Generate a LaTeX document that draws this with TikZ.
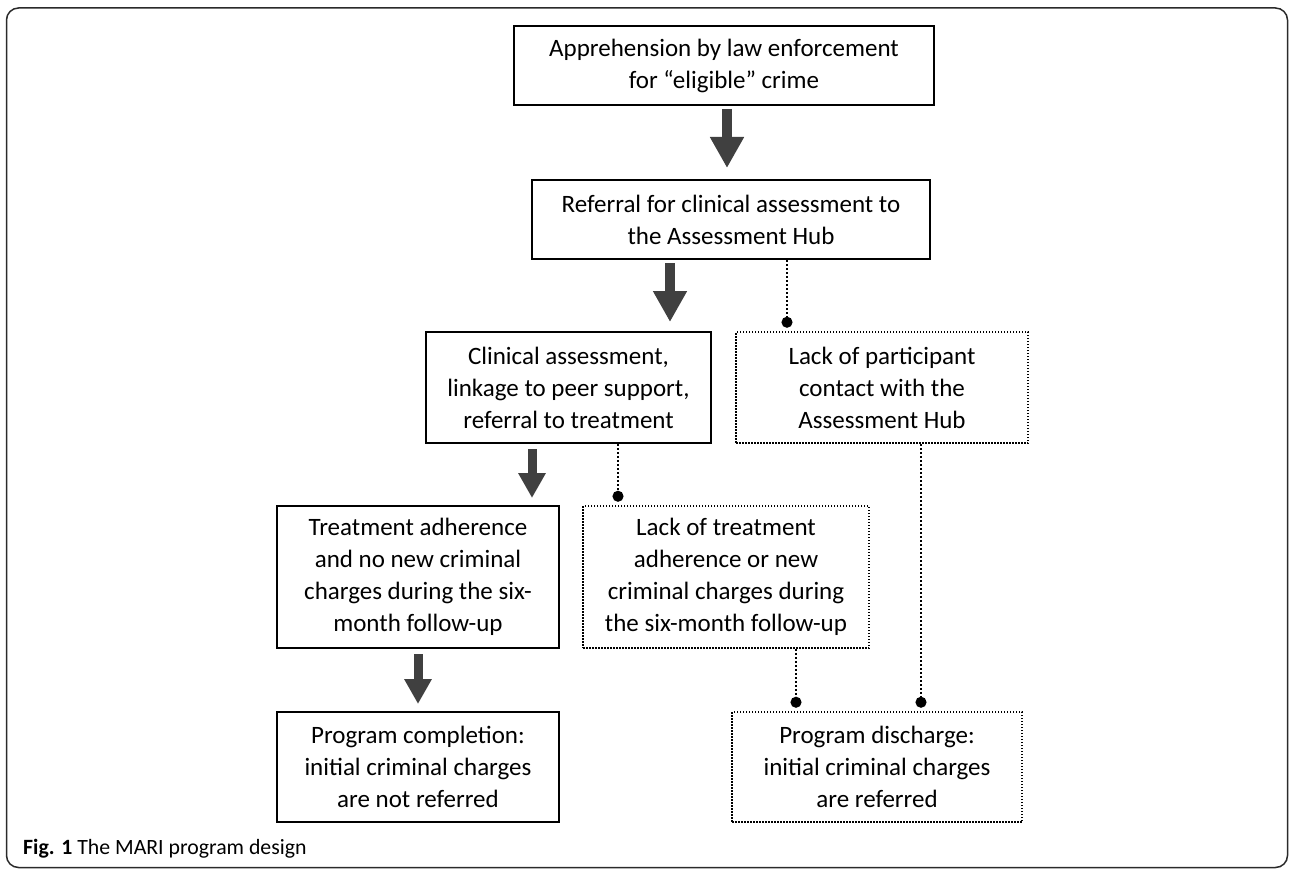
\documentclass[tikz,border=0pt]{standalone}
\usepackage{fontspec}
\setmainfont{Carlito}
\usetikzlibrary{arrows.meta}
\definecolor{arrowgray}{HTML}{404040}
\definecolor{framegray}{HTML}{2A2A2A}
\begin{document}
\begin{tikzpicture}[x=1pt,y=-1pt,
  boxtext/.style={align=center, inner sep=0pt, font=\fontsize{25}{32}\selectfont},
  sbox/.style={boxtext, draw, line width=2pt},
  dbox/.style={boxtext, draw, line width=1.5pt, dash pattern=on 1.5pt off 1.5pt},
  blockarrow/.style={arrowgray, line width=10pt, -{Triangle[width=32pt,length=31pt]}},
  smallarrow/.style={arrowgray, line width=9pt, -{Triangle[width=26pt,length=25pt]}},
  dotconn/.style={line width=2pt, dash pattern=on 2pt off 2pt, -{Circle[length=11pt]}, shorten >=3.5pt}]
\useasboundingbox (0,0) rectangle (1290,869);
\draw[framegray, line width=1.5pt, rounded corners=12pt] (6.5,8) rectangle (1287.5,867.5);

\node[sbox, minimum width=420pt, minimum height=79pt] (b1) at (724,65.5)
  {Apprehension by law enforcement\\for “eligible” crime};
\node[sbox, minimum width=398pt, minimum height=79pt] (b2) at (731,219.5)
  {Referral for clinical assessment to\\the Assessment Hub};
\node[sbox, minimum width=285pt, minimum height=111pt] (b3) at (568.5,387.5)
  {Clinical assessment,\\linkage to peer support,\\referral to treatment};
\node[dbox, minimum width=292pt, minimum height=111pt] (b4) at (882,387.5)
  {Lack of participant\\contact with the\\Assessment Hub};
\node[sbox, minimum width=282pt, minimum height=142pt] (b5) at (418,577)
  {Treatment adherence\\and no new criminal\\charges during the six-\\month follow-up};
\node[dbox, minimum width=286pt, minimum height=142pt] (b6) at (726,577)
  {Lack of treatment\\adherence or new\\criminal charges during\\the six-month follow-up};
\node[sbox, minimum width=282pt, minimum height=110pt] (b7) at (418,767)
  {Program completion:\\initial criminal charges\\are not referred};
\node[dbox, minimum width=290pt, minimum height=110pt] (b8) at (877,767)
  {Program discharge:\\initial criminal charges\\are referred};

\coordinate (x1) at (727,0);
\coordinate (x2) at (670,0);
\coordinate (x3) at (532,0);
\coordinate (x4) at (418,0);
\coordinate (y1) at (787,0);
\coordinate (y2) at (618,0);
\coordinate (y3) at (796,0);
\coordinate (y4) at (921,0);

\draw[blockarrow, shorten <=3pt, shorten >=11pt] (b1.south -| x1) -- (b2.north -| x1);
\draw[blockarrow, shorten <=3pt, shorten >=9pt] (b2.south -| x2) -- (b3.north -| x2);
\draw[smallarrow, shorten <=5pt, shorten >=7pt] (b3.south -| x3) -- (b5.north -| x3);
\draw[smallarrow, shorten <=5pt, shorten >=7pt] (b5.south -| x4) -- (b7.north -| x4);

\draw[dotconn] (b2.south -| y1) -- (b4.north -| y1);
\draw[dotconn] (b3.south -| y2) -- (b6.north -| y2);
\draw[dotconn] (b6.south -| y3) -- (b8.north -| y3);
\draw[dotconn] (b4.south -| y4) -- (b8.north -| y4);

\node[anchor=base west, inner sep=0pt, font=\fontsize{21.8}{26}\selectfont] (cap) at (23,854)
  {\textbf{Fig. 1} The MARI program design};
\end{tikzpicture}
\end{document}
